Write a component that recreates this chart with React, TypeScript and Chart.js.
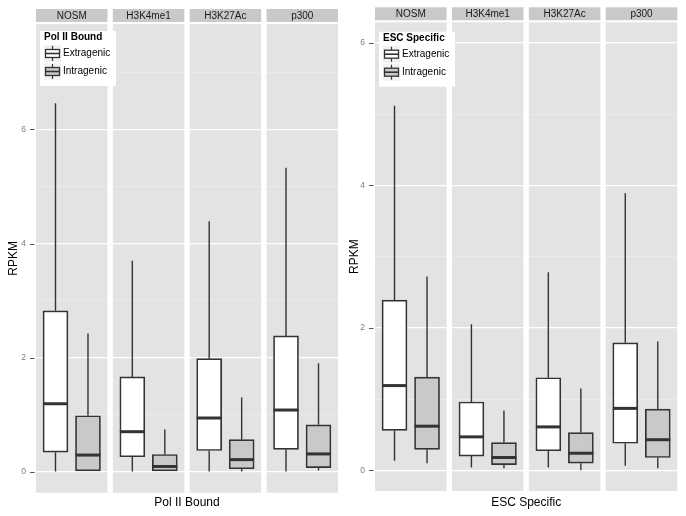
import React, { useEffect, useRef } from 'react';
import { Chart, registerables } from 'chart.js';

Chart.register(...registerables);

// ---------- data ----------
const facets = ['NOSM', 'H3K4me1', 'H3K27Ac', 'p300'];
const groups = ['Extragenic', 'Intragenic'];

// Pol II Bound: each entry is [Extragenic, Intragenic] for one facet
const polLow = [[0, 0], [0, 0], [0, 0], [0, 0.02]];
const polQ1 = [[0.34, 0], [0.26, 0], [0.37, 0.05], [0.39, 0.07]];
const polMedian = [[1.19, 0.29], [0.7, 0.09], [0.94, 0.21], [1.08, 0.31]];
const polQ3 = [[2.82, 0.98], [1.66, 0.3], [1.98, 0.56], [2.38, 0.82]];
const polHigh = [[6.46, 2.42], [3.7, 0.74], [4.39, 1.3], [5.33, 1.9]];

// ESC Specific
const escLow = [[0.135, 0.1], [0.04, 0.03], [0.04, 0.0], [0.065, 0.03]];
const escQ1 = [[0.56, 0.295], [0.2, 0.08], [0.275, 0.1], [0.38, 0.18]];
const escMedian = [[1.19, 0.62], [0.47, 0.18], [0.61, 0.24], [0.87, 0.43]];
const escQ3 = [[2.39, 1.31], [0.96, 0.39], [1.3, 0.53], [1.79, 0.86]];
const escHigh = [[5.12, 2.72], [2.05, 0.84], [2.78, 1.15], [3.89, 1.81]];

const yTicksMajor = [0, 2, 4, 6];

// ---------- style ----------
const FONT = '"Liberation Sans", Arial, Helvetica, sans-serif';
const PANEL_BG = '#e3e3e3';
const STRIP_BG = '#c9c9c9';
const LINE = '#333333';
const fills = ['#ffffff', '#c9c9c9'];
const FW = 2.2; // facet width in x units
const GAP = 0.165; // gap between facets in x units
const TOTAL = facets.length * FW + (facets.length - 1) * GAP;

type PanelCfg = {
  title: string;
  low: number[][];
  q1: number[][];
  med: number[][];
  q3: number[][];
  high: number[][];
  yMin: number;
  yMax: number;
  yAxisWidth: number;
  padTop: number;
  padRight: number;
  xAxisHeight: number;
  xTitlePad: number;
  yTitlePad: number;
  stripOffset: number;
  legendDx: number;
  legendDy: number;
};

const panels: PanelCfg[] = [
  {
    title: 'Pol II Bound',
    low: polLow, q1: polQ1, med: polMedian, q3: polQ3, high: polHigh,
    yMin: -0.37, yMax: 7.85,
    yAxisWidth: 36, padTop: 24, padRight: 5,
    xAxisHeight: 23.3, xTitlePad: 6, yTitlePad: 6,
    stripOffset: 15, legendDx: 4, legendDy: 7,
  },
  {
    title: 'ESC Specific',
    low: escLow, q1: escQ1, med: escMedian, q3: escQ3, high: escHigh,
    yMin: -0.29, yMax: 6.29,
    yAxisWidth: 32, padTop: 22.3, padRight: 8.7,
    xAxisHeight: 25, xTitlePad: 6.3, yTitlePad: 4,
    stripOffset: 15, legendDx: 4, legendDy: 9.4,
  },
];

function facetStart(k: number) {
  return k * (FW + GAP);
}

function tickValue(ctx: any): number {
  if (ctx && ctx.tick && typeof ctx.tick.value === 'number') return ctx.tick.value;
  return ctx && typeof ctx.index === 'number' ? ctx.index : -1;
}

function makePlugin(p: PanelCfg) {
  return {
    id: 'facetBoxes',
    beforeDraw(chart: any) {
      const { ctx, chartArea: a, scales } = chart;
      const x = scales.x;
      ctx.save();
      ctx.fillStyle = PANEL_BG;
      ctx.fillRect(a.left, a.top, a.right - a.left, a.bottom - a.top);
      facets.forEach((f, k) => {
        const x0 = x.getPixelForValue(facetStart(k));
        const x1 = x.getPixelForValue(facetStart(k) + FW);
        const sy = a.top - p.stripOffset;
        ctx.fillStyle = STRIP_BG;
        ctx.fillRect(x0, sy, x1 - x0, 13);
        ctx.fillStyle = '#1a1a1a';
        ctx.font = `10px ${FONT}`;
        ctx.textAlign = 'center';
        ctx.textBaseline = 'middle';
        ctx.fillText(f, (x0 + x1) / 2, sy + 7);
      });
      ctx.restore();
    },
    beforeDatasetsDraw(chart: any) {
      const { ctx, chartArea: a, scales } = chart;
      const x = scales.x;
      const y = scales.y;
      ctx.save();
      ctx.fillStyle = '#ffffff';
      for (let k = 0; k < facets.length - 1; k++) {
        const g0 = x.getPixelForValue(facetStart(k) + FW);
        const g1 = x.getPixelForValue(facetStart(k + 1));
        ctx.fillRect(g0, a.top, g1 - g0, a.bottom - a.top);
      }
      // y tick marks
      ctx.strokeStyle = '#555555';
      ctx.lineWidth = 1;
      yTicksMajor.forEach((v) => {
        const py = Math.round(y.getPixelForValue(v)) + 0.5;
        ctx.beginPath();
        ctx.moveTo(a.left - 6, py);
        ctx.lineTo(a.left - 1.5, py);
        ctx.stroke();
      });
      // whiskers
      ctx.strokeStyle = LINE;
      ctx.lineWidth = 1.4;
      groups.forEach((g, j) => {
        const meta = chart.getDatasetMeta(j);
        meta.data.forEach((bar: any, k: number) => {
          const cx = bar.x;
          ctx.beginPath();
          ctx.moveTo(cx, y.getPixelForValue(p.low[k][j]));
          ctx.lineTo(cx, y.getPixelForValue(p.q1[k][j]));
          ctx.moveTo(cx, y.getPixelForValue(p.q3[k][j]));
          ctx.lineTo(cx, y.getPixelForValue(p.high[k][j]));
          ctx.stroke();
        });
      });
      ctx.restore();
    },
    afterDatasetsDraw(chart: any) {
      const { ctx, scales } = chart;
      const y = scales.y;
      ctx.save();
      ctx.strokeStyle = LINE;
      ctx.lineWidth = 3;
      groups.forEach((g, j) => {
        const meta = chart.getDatasetMeta(j);
        meta.data.forEach((bar: any, k: number) => {
          const my = y.getPixelForValue(p.med[k][j]);
          ctx.beginPath();
          ctx.moveTo(bar.x - bar.width / 2, my);
          ctx.lineTo(bar.x + bar.width / 2, my);
          ctx.stroke();
        });
      });
      ctx.restore();
    },
    afterDraw(chart: any) {
      const { ctx, chartArea: a } = chart;
      const lx = a.left + p.legendDx;
      const ly = a.top + p.legendDy;
      ctx.save();
      ctx.fillStyle = '#ffffff';
      ctx.fillRect(lx, ly, 76, 55);
      ctx.fillStyle = '#000000';
      ctx.font = `bold 10px ${FONT}`;
      ctx.textAlign = 'left';
      ctx.textBaseline = 'middle';
      ctx.fillText(p.title, lx + 4, ly + 6.5);
      groups.forEach((g, j) => {
        const kx = lx + 4;
        const ky = ly + 14 + j * 18;
        ctx.fillStyle = '#f2f2f2';
        ctx.fillRect(kx, ky, 17, 17);
        ctx.strokeStyle = LINE;
        ctx.lineWidth = 1.2;
        ctx.beginPath();
        ctx.moveTo(kx + 8.5, ky + 1);
        ctx.lineTo(kx + 8.5, ky + 16);
        ctx.stroke();
        ctx.fillStyle = fills[j];
        ctx.fillRect(kx + 1.5, ky + 4.5, 14, 8);
        ctx.lineWidth = 1.3;
        ctx.strokeRect(kx + 1.5, ky + 4.5, 14, 8);
        ctx.lineWidth = 1.6;
        ctx.beginPath();
        ctx.moveTo(kx + 1.5, ky + 8.5);
        ctx.lineTo(kx + 15.5, ky + 8.5);
        ctx.stroke();
        ctx.fillStyle = '#000000';
        ctx.font = `10px ${FONT}`;
        ctx.fillText(g, kx + 19, ky + 8.5);
      });
      ctx.restore();
    },
  };
}

function buildConfig(p: PanelCfg): any {
  const isMajor = (ctx: any) => yTicksMajor.includes(tickValue(ctx));
  return {
    type: 'bar',
    data: {
      datasets: groups.map((g, j) => ({
        label: g,
        data: facets.map((f, k) => ({
          x: facetStart(k) + 0.6 + j,
          y: [p.q1[k][j], p.q3[k][j]],
        })),
        backgroundColor: fills[j],
        borderColor: LINE,
        borderWidth: 1.7,
        borderSkipped: false,
        barThickness: 25,
        grouped: false,
      })),
    },
    options: {
      animation: false,
      responsive: false,
      maintainAspectRatio: false,
      devicePixelRatio: 1,
      layout: { padding: { top: p.padTop, left: 0, right: p.padRight, bottom: 0 } },
      plugins: {
        legend: { display: false },
        tooltip: { enabled: false },
        title: { display: false },
      },
      scales: {
        x: {
          type: 'linear',
          min: 0,
          max: TOTAL,
          offset: false,
          afterFit: (s: any) => {
            s.height = p.xAxisHeight;
          },
          ticks: { display: false },
          grid: { display: false },
          border: { display: false },
          title: {
            display: true,
            text: p.title,
            color: '#000000',
            font: { family: FONT, size: 12 },
            padding: { top: 0, bottom: p.xTitlePad },
          },
        },
        y: {
          type: 'linear',
          min: p.yMin,
          max: p.yMax,
          afterFit: (s: any) => {
            s.width = p.yAxisWidth;
          },
          ticks: {
            stepSize: 1,
            includeBounds: false,
            autoSkip: false,
            color: '#7f7f7f',
            font: { family: FONT, size: 8.5 },
            padding: 10,
            callback: (v: any) => (yTicksMajor.includes(Number(v)) ? String(v) : ''),
          },
          grid: {
            color: (ctx: any) => (isMajor(ctx) ? '#ffffff' : '#f0f0f0'),
            lineWidth: (ctx: any) => (isMajor(ctx) ? 1.3 : 0.6),
            drawTicks: false,
          },
          border: { display: false },
          title: {
            display: true,
            text: 'RPKM',
            color: '#000000',
            font: { family: FONT, size: 12 },
            padding: { top: p.yTitlePad, bottom: 0 },
          },
        },
      },
    },
    plugins: [makePlugin(p)],
  };
}

function Panel({ cfg, left }: { cfg: PanelCfg; left: number }) {
  const ref = useRef<HTMLCanvasElement>(null);
  useEffect(() => {
    const chart = new Chart(ref.current as HTMLCanvasElement, buildConfig(cfg));
    return () => chart.destroy();
  }, [cfg]);
  return (
    <canvas
      ref={ref}
      width={343}
      height={516}
      style={{ position: 'absolute', left, top: 0, width: 343, height: 516 }}
    />
  );
}

export default function App() {
  return (
    <div style={{ position: 'absolute', left: 0, top: 0, width: 686, height: 516, background: '#ffffff' }}>
      <Panel cfg={panels[0]} left={0} />
      <Panel cfg={panels[1]} left={343} />
    </div>
  );
}
